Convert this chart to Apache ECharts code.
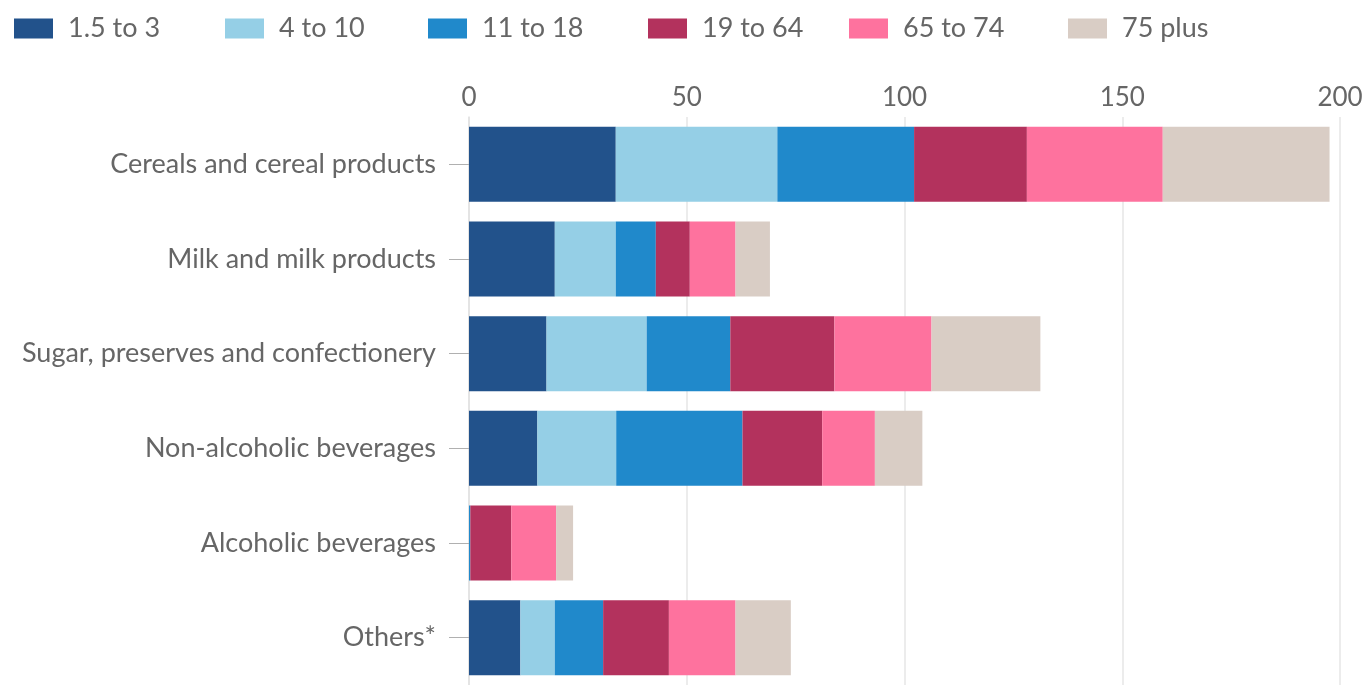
<!DOCTYPE html>
<html>
<head>
<meta charset="utf-8">
<script src="https://cdn.jsdelivr.net/npm/echarts@6/dist/echarts.min.js"></script>
<style>
  html, body { margin: 0; padding: 0; background: #ffffff; }
  #chart { width: 1370px; height: 685px; }
</style>
</head>
<body>
<div id="chart"></div>
<script>
// Food groups (top to bottom)
var categories = [
  'Cereals and cereal products',
  'Milk and milk products',
  'Sugar, preserves and confectionery',
  'Non-alcoholic beverages',
  'Alcoholic beverages',
  'Others*'
];

// Age groups, stacked left to right
var ageGroups = ['1.5 to 3', '4 to 10', '11 to 18', '19 to 64', '65 to 74', '75 plus'];

var age1_5to3  = [33.7, 19.7, 17.8, 15.7, 0,    11.8];
var age4to10   = [37.1, 14.0, 23.0, 18.1, 0,     7.9];
var age11to18  = [31.4,  9.2, 19.2, 29.0, 0.3, 11.1];
var age19to64  = [25.9,  7.8, 23.9, 18.3, 9.4, 15.1];
var age65to74  = [31.2, 10.5, 22.3, 12.1, 10.3, 15.3];
var age75plus  = [38.3,  7.9, 25.0, 10.9, 3.9, 12.7];

var xTicks = { min: 0, max: 200, interval: 50 };

var palette = ['#22528b', '#95cfe6', '#2089cb', '#b3325d', '#fe729e', '#d9cdc5'];
var seriesValues = [age1_5to3, age4to10, age11to18, age19to64, age65to74, age75plus];

var font = 'Lato, "Noto Sans", sans-serif';
var textGrey = '#666666';
var legendLefts = [9, 220, 423, 643, 844, 1063];

var legends = ageGroups.map(function (name, i) {
  return {
    data: [name],
    left: legendLefts[i],
    top: 10,
    itemWidth: 39,
    itemHeight: 20,
    itemStyle: { borderWidth: 0 },
    icon: 'rect',
    selectedMode: false,
    textStyle: { fontFamily: font, fontSize: 27, color: textGrey, padding: [0, 0, 0, 10] }
  };
});

var series = ageGroups.map(function (name, i) {
  return {
    name: name,
    type: 'bar',
    stack: 'total',
    barWidth: 75,
    data: seriesValues[i],
    itemStyle: { color: palette[i] },
    emphasis: { disabled: true }
  };
});

var chart = echarts.init(document.getElementById('chart'), null, { renderer: 'canvas' });
chart.setOption({
  animation: false,
  backgroundColor: '#ffffff',
  color: palette,
  legend: legends,
  grid: { left: 469, right: 30, top: 117, bottom: 0, containLabel: false },
  xAxis: {
    type: 'value',
    position: 'top',
    min: xTicks.min,
    max: xTicks.max,
    interval: xTicks.interval,
    axisLine: { show: false },
    axisTick: { show: false },
    axisLabel: { fontFamily: font, fontSize: 26, color: textGrey, margin: 6 },
    splitLine: { lineStyle: { color: '#e6e6e6', width: 1.5 } }
  },
  yAxis: {
    type: 'category',
    inverse: true,
    data: categories,
    axisLine: { show: true, lineStyle: { color: '#e2e2e2', width: 1.5 } },
    axisTick: { show: true, length: 20, alignWithLabel: true, lineStyle: { color: '#b0b0b0', width: 1 } },
    axisLabel: { fontFamily: font, fontSize: 27, color: textGrey, margin: 33 }
  },
  series: series
});
</script>
</body>
</html>
